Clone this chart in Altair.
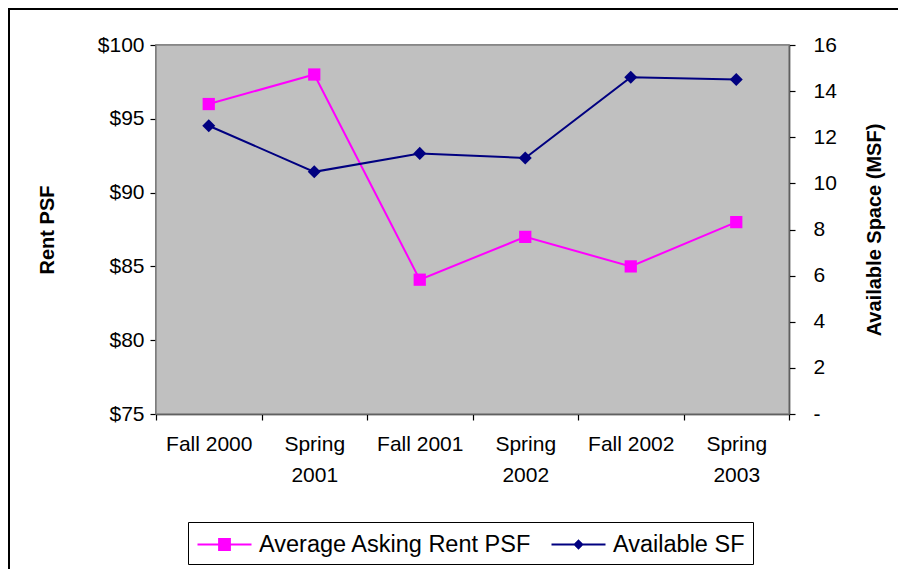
import altair as alt
import pandas as pd

categories = ["Fall 2000", "Spring 2001", "Fall 2001", "Spring 2002", "Fall 2002", "Spring 2003"]
rent = [96.0, 98.0, 84.1, 87.0, 85.0, 88.0]
avail = [12.5, 10.5, 11.3, 11.1, 14.6, 14.5]
series_names = ["Average Asking Rent PSF", "Available SF"]
series_colors = ["#FF00FF", "#000080"]

df = pd.DataFrame({"period": categories, "rent": rent, "avail": avail})
FONT = "Liberation Sans"
W, H = 633, 369

x_enc = alt.X(
    "period:N",
    sort=categories,
    scale=alt.Scale(type="band", paddingInner=0, paddingOuter=0),
    axis=alt.Axis(
        title=None, labelAngle=0, tickBand="extent", labelFontSize=21,
        labelLineHeight=31, labelPadding=13, tickSize=6,
        labelExpr="indexof(datum.label, 'Spring') == 0 ? split(datum.label, ' ') : datum.label",
    ),
)

base = alt.Chart(df)

rent_y = alt.Y(
    "rent:Q",
    scale=alt.Scale(domain=[75, 100], nice=False, zero=False),
    axis=alt.Axis(
        title="Rent PSF", orient="left", values=[75, 80, 85, 90, 95, 100],
        labelExpr="'$' + datum.value", labelFontSize=21, labelPadding=6,
        tickSize=6, titleFontSize=20, titlePadding=40, titleFontWeight="bold",
    ),
)
rent_layer = alt.layer(
    base.mark_line(color=series_colors[0], strokeWidth=2).encode(x=x_enc, y=rent_y),
    base.mark_point(shape="square", filled=True, size=150, opacity=1,
                    color=series_colors[0]).encode(x=x_enc, y=rent_y),
)

avail_y = alt.Y(
    "avail:Q",
    scale=alt.Scale(domain=[0, 16], nice=False),
    axis=alt.Axis(
        title="Available Space (MSF)", orient="right",
        values=[0, 2, 4, 6, 8, 10, 12, 14, 16],
        labelExpr="datum.value == 0 ? '-' : datum.label",
        labelFontSize=21, labelPadding=18, tickSize=6,
        titleFontSize=20, titlePadding=48, titleFontWeight="bold", titleAngle=270,
    ),
)
avail_layer = alt.layer(
    base.mark_line(color=series_colors[1], strokeWidth=2).encode(x=x_enc, y=avail_y),
    base.mark_point(shape="diamond", filled=True, size=170, opacity=1,
                    color=series_colors[1]).encode(x=x_enc, y=avail_y),
)

# legend symbol: line segment with marker; path spans +-2 so the row height stays small
legend_paths = [
    "M-2,0H2M-0.4,-0.4H0.4V0.4H-0.4Z",
    "M-2,0H2M0,-0.28L0.28,0L0,0.28L-0.28,0Z",
]


def make_legend():
    return alt.Legend(
        orient="none", legendX=32, legendY=477, direction="horizontal", title=None,
        labelFontSize=23.5, labelFont=FONT, labelColor="black", symbolSize=729,
        symbolStrokeWidth=2, symbolOpacity=1, strokeColor="black", fillColor="white",
        padding=8, columnPadding=15, symbolOffset=14, labelOffset=20, labelLimit=400,
    )


leg_df = pd.DataFrame({"series": series_names})
legend_layer = alt.Chart(leg_df).transform_filter(
    alt.datum.series == "__none__"
).mark_point(filled=True, opacity=1).encode(
    fill=alt.Fill("series:N", sort=series_names,
                  scale=alt.Scale(domain=series_names, range=series_colors), legend=make_legend()),
    stroke=alt.Stroke("series:N", sort=series_names,
                      scale=alt.Scale(domain=series_names, range=series_colors), legend=make_legend()),
    shape=alt.Shape("series:N", sort=series_names,
                    scale=alt.Scale(domain=series_names, range=legend_paths), legend=make_legend()),
)

one = pd.DataFrame({"a": [0]})
plot_bg = alt.Chart(one).mark_rect(
    fill="#C0C0C0", stroke="#808080", strokeWidth=1.5
).encode(x=alt.value(0), x2=alt.value(W), y=alt.value(0), y2=alt.value(H))

frame = alt.Chart(one).mark_rect(
    fill="white", fillOpacity=0, stroke="black", strokeWidth=2
).encode(
    x=alt.value(-147), x2=alt.value(770), y=alt.value(-36), y2=alt.value(570)
)

chart = alt.layer(
    plot_bg, frame, rent_layer, avail_layer, legend_layer
).resolve_scale(y="independent").properties(
    width=W, height=H,
    autosize=alt.AutoSizeParams(type="none"),
    padding={"left": 148, "top": 37, "right": 109, "bottom": 155},
    background="white",
).configure_view(
    fill="#C0C0C0", stroke="#808080", strokeWidth=1.5
).configure_axis(
    grid=False, domainColor="black", domainWidth=1.5, tickColor="black", tickWidth=1.2,
    labelColor="black", titleColor="black", labelFont=FONT, titleFont=FONT, zindex=1,
).configure_text(font=FONT)

chart.save("out.html", embed_options={"renderer": "svg", "actions": False})
